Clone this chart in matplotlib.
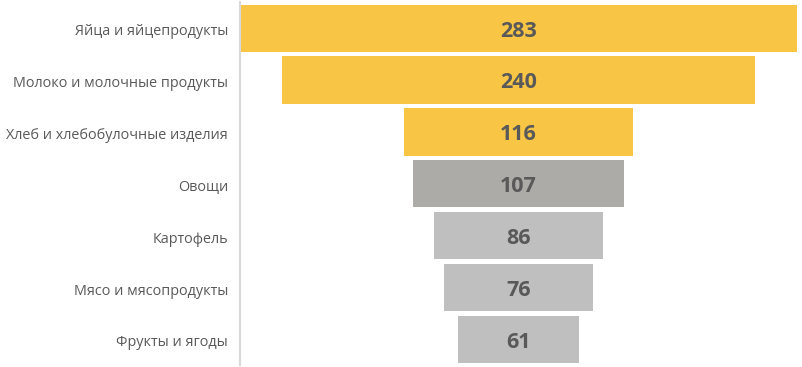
import matplotlib
matplotlib.use("Agg")
import matplotlib.pyplot as plt

categories = ["Яйца и яйцепродукты", "Молоко и молочные продукты", "Хлеб и хлебобулочные изделия",
              "Овощи", "Картофель", "Мясо и мясопродукты", "Фрукты и ягоды"]
values = [283, 240, 116, 107, 86, 76, 61]
colors = ["#F8C545", "#F8C545", "#F8C545", "#ADABA8", "#BFBFBF", "#BFBFBF", "#BFBFBF"]

plt.rcParams['font.family'] = ['Open Sans', 'DejaVu Sans']

W, H = 802, 367
fig = plt.figure(figsize=(W/100, H/100), dpi=100)
ax = fig.add_axes([240/W, 1.7/H, 557/W, 363/H])

n = len(values)
ypos = list(range(n))
lefts = [-v/2 for v in values]
ax.barh(ypos, values, left=lefts, height=0.91, color=colors)
for y, v in zip(ypos, values):
    ax.text(0, y + 0.055, str(v), ha='center', va='center', fontsize=15.5,
            fontweight='bold', color='#595959')

ax.set_xlim(-max(values)/2, max(values)/2)
ax.set_ylim(n - 0.5, -0.5)
ax.set_yticks([y + 0.03 for y in ypos])
ax.set_yticklabels(categories, fontsize=10.4, color='#595959')
ax.tick_params(axis='y', length=0, pad=8.6)
ax.set_xticks([])
for s in ['top', 'right', 'bottom']:
    ax.spines[s].set_visible(False)
ax.spines['left'].set_color('#D9D9D9')
ax.spines['left'].set_linewidth(1.5)

fig.savefig("out.png", dpi=100)
